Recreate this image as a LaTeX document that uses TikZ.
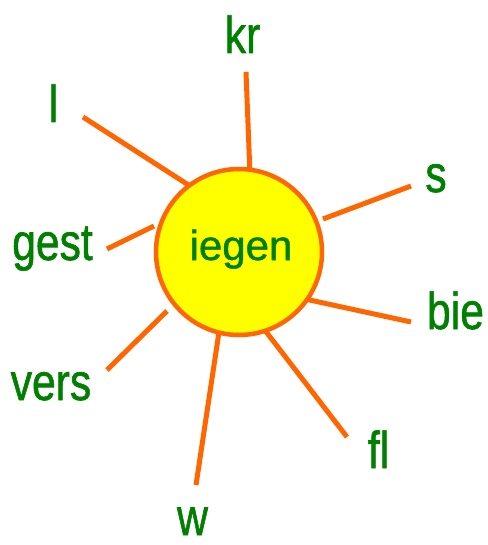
\documentclass[tikz,border=0pt]{standalone}
\usepackage{fontspec}
\setmainfont{Liberation Sans}
\newfontfamily\wordfont[FakeBold=1.2]{Liberation Sans}
\usepackage{graphicx}
\definecolor{rayorange}{HTML}{FF6600}
\definecolor{sunyellow}{HTML}{FFFF00}
\definecolor{wordgreen}{HTML}{008000}
\newcommand{\lbltext}[1]{\scalebox{0.82}[1]{\wordfont\fontsize{52}{60}\selectfont #1}}
\tikzset{
  ray/.style={draw=rayorange, line width=5pt},
  sun/.style={circle, draw=rayorange, fill=sunyellow, line width=4.5pt, minimum size=166pt, inner sep=0pt},
  word/.style={anchor=base, inner sep=0pt, text=wordgreen},
}
\begin{document}
\begin{tikzpicture}[x=1pt, y=-1pt]
\useasboundingbox (0,0) rectangle (487,545);
% ray end points
\coordinate (kr-o) at (246,72);   \coordinate (kr-i) at (250,175);
\coordinate (l-o) at (83,117);    \coordinate (l-i) at (190,186);
\coordinate (s-o) at (411,186);   \coordinate (s-i) at (323,219);
\coordinate (g-o) at (107,249);   \coordinate (g-i) at (154,226);
\coordinate (b-o) at (411,322);   \coordinate (b-i) at (305,299);
\coordinate (v-o) at (107,370);   \coordinate (v-i) at (167,311);
\coordinate (f-o) at (347,437);   \coordinate (f-i) at (264,329);
\coordinate (w-o) at (196,485);   \coordinate (w-i) at (219,332);
\draw[ray] (kr-o) -- (kr-i);
\draw[ray] (l-o) -- (l-i);
\draw[ray] (s-o) -- (s-i);
\draw[ray] (g-o) -- (g-i);
\draw[ray] (b-o) -- (b-i);
\draw[ray] (v-o) -- (v-i);
\draw[ray] (f-o) -- (f-i);
\draw[ray] (w-o) -- (w-i);
% sun
\node[sun] (c) at (239,252) {};
\node[word] (center) at (241,260) {\wordfont\fontsize{42}{50}\selectfont iegen};
% labels
\node[word] (kr) at (242.5,53) {\lbltext{kr}};
\node[word] (l) at (53.5,122) {\lbltext{l}};
\node[word] (s) at (436,192) {\lbltext{s}};
\node[word] (gest) at (52.5,260) {\lbltext{gest}};
\node[word] (bie) at (455.5,329) {\lbltext{bie}};
\node[word] (vers) at (51,400) {\lbltext{vers}};
\node[word] (fl) at (378.5,468) {\lbltext{fl}};
\node[word] (w) at (192.5,535) {\lbltext{w}};
\end{tikzpicture}
\end{document}
